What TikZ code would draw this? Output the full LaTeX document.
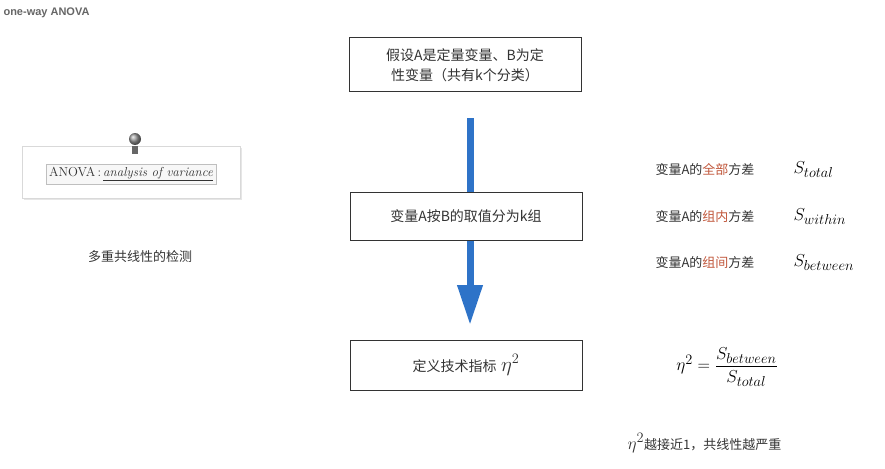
\documentclass[tikz,border=0pt]{standalone}
\usepackage{fontspec}
\newfontfamily\cjk{Noto Sans CJK SC}
\setsansfont{Liberation Sans}
\usetikzlibrary{arrows.meta,shadows}
\definecolor{txt}{HTML}{333333}
\definecolor{hl}{HTML}{C0563A}
\definecolor{arrblue}{HTML}{2E73C8}
\begin{document}
\begin{tikzpicture}[x=1pt,y=-1pt,
  stepbox/.style={draw=black!80,fill=white,line width=1pt,minimum width=232pt,text width=200pt,align=center,font=\cjk\fontsize{14}{20}\selectfont,text=txt},
  lbl/.style={font=\cjk\fontsize{13}{16}\selectfont,text=txt,anchor=west},
  sym/.style={font=\fontsize{19}{22}\selectfont,anchor=west}]
\useasboundingbox (0,0) rectangle (885,468);
\node[anchor=north west,font=\sffamily\bfseries\fontsize{11}{13}\selectfont,text=black!60] (title) at (0,4) {one-way ANOVA};
% ANOVA card
\node[draw=black!15,fill=white,drop shadow={opacity=0.2},minimum width=218pt,minimum height=52pt] (card) at (131,172) {};
\node[draw=black!25,fill=black!3,font=\fontsize{13}{15}\selectfont,text=txt,inner sep=3pt] (anova) at (131,174) {ANOVA\,:\,\underline{\itshape analysis of variance}};
\shade[ball color=black!40] (135,139) circle (6pt);
\fill[black!60] (132,146) rectangle (138,154);
\node[font=\cjk\fontsize{13}{16}\selectfont,text=txt] (multi) at (140,257) {多重共线性的检测};
% arrow (behind boxes)
\coordinate (a1) at (470,118);
\coordinate (a2) at (470,325);
\draw[line width=7pt,draw=arrblue,-{Triangle[width=24pt,length=40pt]}] (a1) -- (a2);
% boxes
\node[stepbox,minimum height=54pt] (b1) at (465,65) {假设A是定量变量、B为定\\性变量（共有k个分类）};
\node[stepbox,minimum height=48pt] (b2) at (466,216) {变量A按B的取值分为k组};
\node[stepbox,minimum height=50pt] (b3) at (466,365) {定义技术指标 {\fontsize{20}{22}\selectfont$\eta^2$}};
% right side
\node[lbl] (l1) at (652,170) {变量A的\textcolor{hl}{全部}方差};
\node[sym] (s1) at (790,170) {$S_{total}$};
\node[lbl] (l2) at (652,217) {变量A的\textcolor{hl}{组内}方差};
\node[sym] (s2) at (790,217) {$S_{within}$};
\node[lbl] (l3) at (652,263) {变量A的\textcolor{hl}{组间}方差};
\node[sym] (s3) at (790,263) {$S_{between}$};
\node[font=\fontsize{19}{22}\selectfont] (eq) at (727,367) {$\eta^2=\displaystyle\frac{S_{between}}{S_{total}}$};
\node[font=\cjk\fontsize{13}{16}\selectfont,text=txt,anchor=west] (conc) at (624,443) {{\fontsize{19}{22}\selectfont$\eta^2$}越接近1，共线性越严重};
\end{tikzpicture}
\end{document}
